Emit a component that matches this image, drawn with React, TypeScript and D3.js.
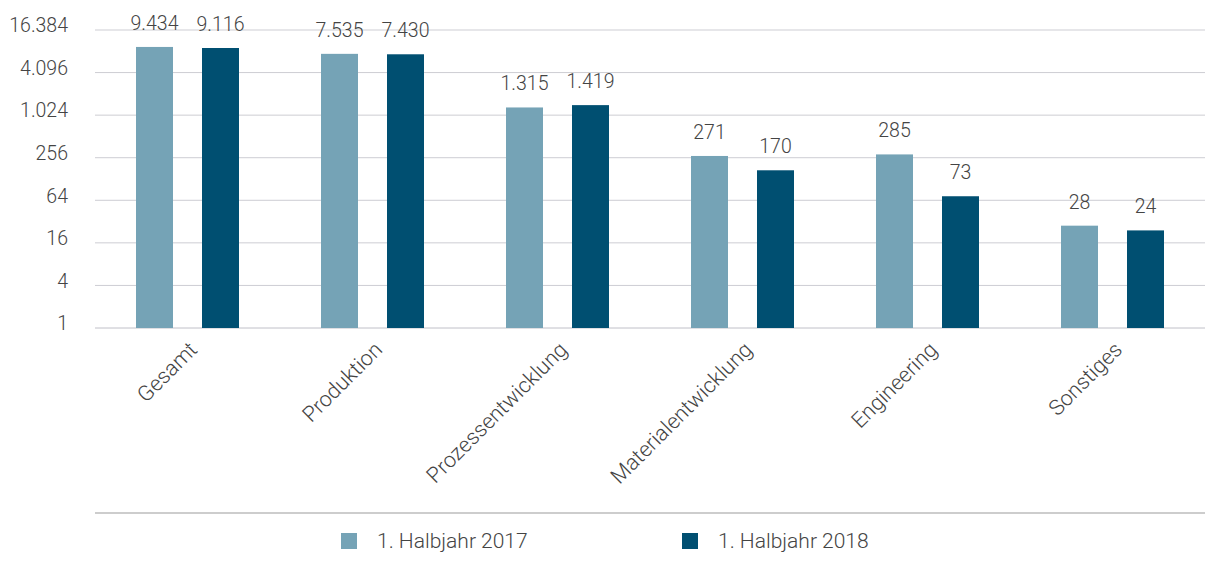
import React from "react";
import * as d3 from "d3";

const categories = ["Gesamt", "Produktion", "Prozessentwicklung", "Materialentwicklung", "Engineering", "Sonstiges"];
const series2017 = [9434, 7535, 1315, 271, 285, 28];
const series2018 = [9116, 7430, 1419, 170, 73, 24];
const seriesNames = ["1. Halbjahr 2017", "1. Halbjahr 2018"];
const yTicks = [1, 4, 16, 64, 256, 1024, 4096, 16384];

const colors = ["#75a3b6", "#004f71"];
const fmt = (v: number) => d3.format(",")(v).replace(/,/g, ".");

export default function App() {
  const W = 1211, H = 563;
  const left = 95, right = 1205, top = 30, bottom = 328;
  const x = d3.scaleBand<string>().domain(categories).range([left, right]);
  const y = d3.scaleLog().base(2).domain([1, 16384]).range([bottom, top]);
  const barW = 37, gap = 29;
  const font = "Roboto, 'DejaVu Sans', sans-serif";
  const series = [series2017, series2018];
  return (
    <svg width={W} height={H} style={{ position: "absolute", left: 0, top: 0, background: "#fff" }}>
      <g fontFamily={font} fontWeight={300} fill="#444">
        {yTicks.map((t) => (
          <g key={t}>
            <line x1={left} x2={right} y1={y(t)} y2={y(t)} stroke={t === 1 ? "#c0c0c8" : "#cdcdd3"} strokeWidth={1} />
            <text x={68} y={y(t) - 4} dy="0.32em" textAnchor="end" fontSize={19.5}>{fmt(t)}</text>
          </g>
        ))}
        {categories.map((c, i) => {
          const cx = x(c)! + x.bandwidth() / 2;
          const total = barW * 2 + gap;
          return (
            <g key={c}>
              {series.map((s, j) => {
                const bx = cx - total / 2 + j * (barW + gap);
                return (
                  <g key={j}>
                    <rect x={bx} y={y(s[i])} width={barW} height={bottom - y(s[i])} fill={colors[j]} />
                    <text x={bx + barW / 2} y={y(s[i]) - 17} textAnchor="middle" fontSize={19.5}>{fmt(s[i])}</text>
                  </g>
                );
              })}
              <text transform={`translate(${cx + 11},${351}) rotate(-45)`} textAnchor="end" fontSize={21.5}>{c}</text>
            </g>
          );
        })}
        <line x1={left} x2={right} y1={513} y2={513} stroke="#bdbdbd" strokeWidth={1.5} />
        {seriesNames.map((n, j) => (
          <g key={n} transform={`translate(${341 + j * 341},533)`}>
            <rect x={0} y={0} width={16} height={16} fill={colors[j]} />
            <text x={36} y={8} dy="0.35em" fontSize={21}>{n}</text>
          </g>
        ))}
      </g>
    </svg>
  );
}
